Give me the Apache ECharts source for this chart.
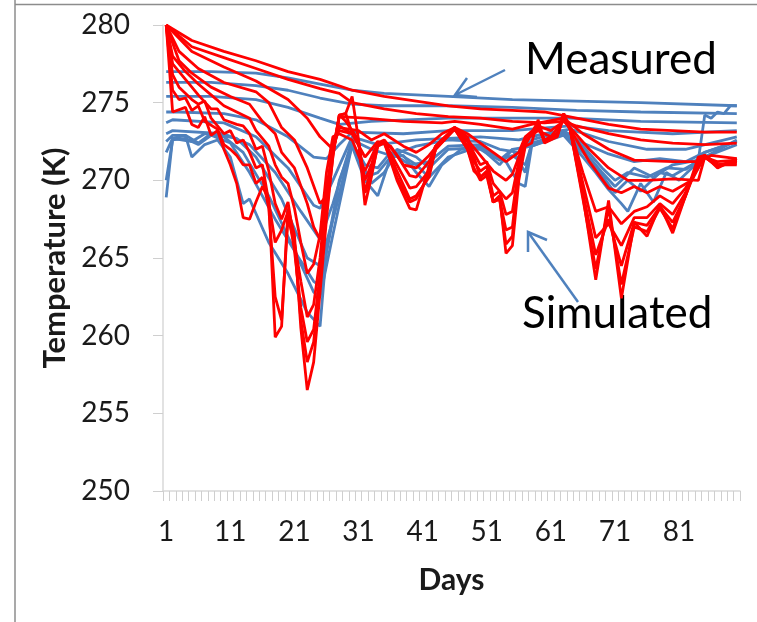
<!DOCTYPE html>
<html>
<head>
<meta charset="utf-8">
<script src="https://cdn.jsdelivr.net/npm/echarts@6/dist/echarts.min.js"></script>
<style>
html,body{margin:0;padding:0;background:#fff;}
#chart{width:757px;height:622px;}
</style>
</head>
<body>
<div id="chart"></div>
<script>
// ---- data (day, temperature K) ----
const days = [];
for (let d = 1; d <= 90; d++) days.push(String(d));
const yTicks = [250, 255, 260, 265, 270, 275, 280];

const measured1 = [[1,277.0],[8,277.0],[15,276.9],[20,276.6],[25,276.2],[30,275.8],[35,275.6],[45,275.4],[55,275.2],[65,275.1],[75,275.0],[90,274.8]];
const measured2 = [[1,276.3],[8,276.3],[15,276.1],[20,275.8],[25,275.3],[30,274.9],[35,274.8],[45,274.8],[55,274.7],[65,274.5],[75,274.4],[90,274.3]];
const measured3 = [[1,275.4],[8,275.4],[15,275.2],[20,274.7],[25,274.0],[28,273.6],[33,273.8],[45,274.0],[55,274.0],[64,274.0],[75,273.8],[90,273.7]];
const measured4 = [[1,274.4],[3,274.4],[10,274.3],[15,273.9],[20,272.8],[24,271.5],[26,271.4],[28,272.3],[30,273.1],[38,273.0],[45,273.2],[55,273.2],[64,273.5],[70,273.2],[80,273.0],[90,273.2]];
const measured5 = [[1,273.7],[2,273.9],[10,273.7],[15,272.8],[20,270.8],[24,268.4],[25,268.2],[27,270.0],[30,272.8],[34,272.3],[40,272.6],[50,272.8],[56,272.6],[60,273.0],[64,273.3],[70,272.5],[76,272.0],[82,272.0],[90,272.8]];
const measured6 = [[1,273.0],[2,273.2],[10,273.0],[14,272.3],[18,270.5],[22,268.0],[25,266.2],[27,268.5],[30,272.6],[33,272.0],[36,271.6],[40,272.2],[45,272.6],[50,272.5],[53,272.0],[56,271.8],[58,272.6],[63,273.2],[66,272.4],[70,271.7],[74,271.2],[78,271.4],[82,271.2],[85,271.8],[90,272.5]];
const measured7 = [[1,272.5],[2,272.9],[4,272.9],[6,272.4],[8,273.0],[12,272.7],[15,271.5],[19,268.8],[23,265.0],[25,264.5],[27,267.5],[30,272.4],[32,271.0],[34,270.8],[36,271.8],[39,271.0],[42,271.2],[45,272.2],[50,272.3],[53,271.3],[55,271.6],[57,271.0],[58,272.3],[63,273.1],[66,272.2],[69,270.8],[71,270.0],[73,270.5],[76,270.2],[79,270.8],[82,270.7],[85,271.5],[90,272.6]];
const measured8 = [[1,271.8],[2,272.7],[5,272.5],[7,273.0],[10,272.8],[13,271.8],[17,269.0],[21,265.5],[24,262.8],[25,262.5],[27,266.5],[30,272.3],[32,270.2],[34,270.5],[37,272.0],[40,271.5],[42,270.8],[45,272.0],[50,272.1],[53,271.0],[55,272.0],[58,272.2],[63,273.0],[66,272.0],[69,270.5],[71,269.6],[74,270.8],[77,270.2],[80,271.0],[84,271.3],[85,274.2],[86,274.0],[87,274.4],[88,274.3],[89,274.8],[90,274.8]];
const measured9 = [[1,270.0],[2,272.6],[4,272.7],[6,272.3],[8,272.9],[11,272.4],[14,270.5],[18,267.5],[22,264.8],[24,263.5],[25,263.2],[27,267.5],[30,272.3],[33,269.8],[35,270.5],[37,271.8],[40,271.0],[42,270.2],[45,271.5],[50,272.2],[53,271.3],[55,272.0],[57,270.5],[58,272.4],[63,273.0],[66,271.8],[69,270.3],[71,269.2],[73,270.0],[75,269.3],[78,270.5],[80,270.3],[83,271.0],[85,271.8],[90,272.5]];
const measured10 = [[1,268.9],[2,272.7],[4,272.9],[5,271.5],[7,272.3],[9,272.6],[11,271.5],[13,268.5],[14,268.8],[17,266.0],[20,264.0],[23,261.5],[25,260.6],[26,265.5],[28,270.0],[30,272.2],[32,270.0],[34,269.0],[36,271.5],[38,271.6],[40,270.5],[42,269.6],[44,271.0],[47,272.0],[50,272.0],[52,271.5],[54,271.2],[56,269.8],[57,269.6],[58,272.2],[63,272.9],[66,271.5],[68,270.5],[70,269.4],[72,268.5],[73,268.0],[75,269.8],[77,268.6],[79,270.5],[81,270.0],[83,270.8],[85,271.5],[90,272.3]];

const simulated1 = [[1,280],[5,279.0],[10,278.3],[15,277.7],[20,277.0],[25,276.5],[30,275.8],[35,275.4],[40,275.1],[45,274.8],[50,274.6],[55,274.5],[60,274.4],[65,274.0],[70,273.6],[75,273.3],[80,273.2],[85,273.1],[90,273.1]];
const simulated2 = [[1,280],[5,278.6],[10,277.9],[15,277.2],[20,276.5],[25,275.9],[28,275.6],[30,275.0],[35,274.6],[40,274.3],[45,274.1],[50,274.0],[55,273.8],[60,273.7],[63,273.8],[65,273.5],[70,273.0],[75,272.6],[80,272.4],[85,272.3],[90,272.4]];
const simulated3 = [[1,280],[5,278.3],[10,277.3],[15,276.4],[20,275.2],[23,274.0],[25,272.8],[27,272.0],[28,274.1],[32,274.0],[38,273.8],[44,273.7],[46,273.8],[50,273.6],[55,273.3],[58,273.6],[63,274.0],[66,273.0],[70,272.0],[74,271.3],[80,271.2],[84,271.2],[86,271.6],[90,271.4]];
const simulated4 = [[1,280],[3,278.3],[6,277.2],[10,276.3],[15,275.7],[17,275.0],[19,273.4],[21,272.6],[23,270.8],[25,268.5],[26,269.0],[27,272.0],[28,273.4],[31,273.2],[33,272.6],[35,273.0],[38,272.2],[40,271.8],[42,272.3],[44,273.0],[46,273.4],[48,273.0],[50,272.4],[52,271.8],[54,271.2],[56,271.8],[57,272.8],[59,273.5],[61,273.2],[63,273.8],[64,273.4],[67,272.0],[70,270.8],[73,270.0],[76,270.0],[80,270.1],[84,270.0],[85,271.5],[87,271.2],[90,271.3]];
const simulated5 = [[1,280],[3,277.7],[5,276.9],[8,276.0],[11,275.4],[14,274.9],[16,273.8],[18,273.0],[19,271.8],[21,270.8],[23,268.5],[24,267.0],[25,266.2],[26,268.5],[27,272.5],[28,273.2],[30,273.0],[32,271.5],[34,272.5],[36,272.2],[38,271.0],[40,270.8],[42,271.6],[44,272.6],[46,273.3],[48,272.6],[50,271.6],[52,270.6],[54,270.0],[55,270.4],[56,271.5],[57,272.6],[59,273.2],[61,272.8],[63,273.9],[64,273.3],[67,271.2],[70,269.5],[72,269.2],[74,269.6],[76,269.2],[78,269.6],[80,269.3],[83,270.0],[85,271.6],[87,271.0],[90,271.2]];
const simulated6 = [[1,280],[2,278.0],[4,277.0],[6,276.2],[8,275.5],[10,274.8],[12,274.4],[14,274.0],[15,273.2],[17,272.2],[18,271.0],[19,270.2],[20,269.8],[21,268.2],[22,266.0],[23,264.0],[24,264.6],[25,266.5],[26,270.5],[27,272.8],[28,273.0],[30,272.6],[32,270.6],[34,272.4],[35,272.6],[37,271.6],[39,270.3],[40,270.2],[42,271.2],[43,272.2],[46,273.4],[48,272.5],[50,271.0],[51,271.2],[52,269.8],[54,268.8],[55,269.2],[56,271.2],[57,272.5],[59,273.4],[60,272.6],[62,273.0],[63,274.0],[64,273.3],[66,270.5],[68,268.0],[70,268.3],[72,267.2],[74,268.0],[76,268.3],[78,269.0],[80,268.5],[82,269.5],[84,270.8],[85,271.6],[87,271.0],[90,271.0]];
const simulated7 = [[1,280],[2,277.5],[4,276.5],[6,275.5],[8,274.6],[9,274.6],[10,273.9],[12,273.6],[13,273.5],[14,273.0],[15,272.0],[16,272.2],[17,270.6],[18,268.5],[19,267.5],[20,268.6],[21,266.0],[22,263.5],[23,261.2],[24,262.0],[25,265.0],[26,269.5],[27,272.0],[28,273.5],[30,273.0],[31,272.4],[32,270.0],[33,271.0],[34,272.4],[35,272.5],[37,271.0],[39,269.5],[40,269.6],[42,270.6],[43,272.0],[46,273.4],[48,272.2],[49,271.2],[50,270.6],[51,270.9],[52,269.0],[53,269.3],[54,267.8],[55,268.0],[56,270.8],[57,272.4],[59,273.6],[60,272.5],[62,272.9],[63,274.1],[64,273.3],[66,269.8],[68,266.3],[70,267.2],[72,265.8],[74,267.6],[76,267.6],[78,268.5],[80,267.8],[82,269.2],[84,271.0],[85,271.6],[87,271.0],[90,271.1]];
const simulated8 = [[1,280],[2,276.8],[3,276.0],[5,275.2],[6,274.9],[7,275.1],[8,274.0],[10,273.0],[11,273.2],[12,272.4],[13,272.6],[14,271.8],[15,270.8],[16,271.0],[17,268.6],[18,266.0],[19,266.8],[20,268.0],[21,265.5],[22,261.8],[23,259.6],[24,260.4],[25,264.0],[26,268.8],[27,271.8],[28,274.2],[29,274.3],[30,273.0],[31,272.5],[32,269.2],[33,270.8],[34,272.3],[35,272.5],[37,270.6],[39,268.8],[40,269.0],[42,270.2],[43,272.0],[46,273.3],[48,272.0],[49,270.8],[50,270.0],[51,270.3],[52,268.6],[53,268.8],[54,266.8],[55,267.0],[56,270.5],[57,272.3],[59,273.7],[60,272.4],[62,272.8],[63,274.2],[64,273.3],[66,269.2],[68,265.2],[70,267.5],[72,264.5],[74,267.3],[76,267.1],[78,268.3],[80,267.3],[82,269.0],[84,271.1],[85,271.5],[87,270.9],[90,271.2]];
const simulated9 = [[1,280],[2,275.8],[3,275.2],[4,275.3],[5,274.5],[6,274.8],[7,273.8],[9,273.3],[10,272.3],[11,272.0],[12,271.6],[13,271.0],[14,271.0],[15,269.8],[16,270.2],[17,268.2],[18,262.5],[19,261.0],[20,267.6],[21,266.0],[22,261.0],[23,258.3],[24,259.6],[25,263.5],[26,268.0],[27,271.5],[28,274.2],[29,273.8],[30,273.2],[31,272.6],[32,269.2],[33,270.4],[34,272.2],[35,272.4],[37,270.2],[39,268.6],[40,268.8],[42,270.4],[43,272.0],[46,273.3],[48,272.0],[49,270.6],[50,270.2],[51,270.5],[52,268.6],[53,268.8],[54,265.9],[55,266.4],[56,270.8],[57,272.3],[59,273.8],[60,272.5],[62,272.9],[63,274.3],[64,273.3],[66,268.8],[68,264.3],[70,268.2],[72,263.3],[74,267.0],[76,266.7],[78,268.2],[80,266.9],[82,269.0],[84,271.3],[85,271.5],[87,270.9],[90,271.3]];
const simulated10 = [[1,280],[2,274.4],[4,274.7],[5,273.6],[6,273.4],[7,274.1],[8,272.9],[9,273.2],[10,272.0],[11,271.0],[12,269.8],[13,267.6],[14,267.5],[15,268.6],[16,269.6],[17,268.8],[18,259.9],[19,260.6],[20,268.2],[21,266.5],[22,260.5],[23,256.5],[24,258.3],[25,262.8],[26,267.5],[27,271.6],[28,274.2],[29,274.3],[30,275.4],[31,272.6],[32,268.4],[33,270.2],[34,272.3],[35,272.5],[37,270.0],[39,268.2],[40,268.1],[42,270.9],[43,272.2],[46,273.4],[48,272.8],[49,271.5],[50,270.2],[51,270.6],[52,268.6],[53,269.0],[54,265.3],[55,265.8],[56,270.0],[57,272.2],[58,272.4],[59,273.9],[60,272.5],[62,273.0],[63,274.3],[64,273.3],[66,269.0],[68,263.6],[70,268.7],[72,262.4],[74,267.3],[76,266.4],[78,268.4],[80,266.6],[82,269.0],[84,271.5],[85,271.6],[87,270.8],[90,271.4]];

const measuredSeries = [measured1, measured2, measured3, measured4, measured5, measured6, measured7, measured8, measured9, measured10];
const simulatedSeries = [simulated1, simulated2, simulated3, simulated4, simulated5, simulated6, simulated7, simulated8, simulated9, simulated10];

const BLUE = '#4F81BD';
const RED = '#FF0000';
const FONT = 'Lato, "Open Sans", sans-serif';

function toSeries(arr, color, name) {
  return {
    type: 'line',
    name: name,
    data: arr.map(p => [p[0] - 1, p[1]]),
    symbol: 'none',
    smooth: false,
    lineStyle: { color: color, width: 2.8 },
    itemStyle: { color: color },
    emphasis: { disabled: true },
    silent: true
  };
}

const series = [];
measuredSeries.forEach((a, i) => series.push(toSeries(a, BLUE, 'Measured ' + (i + 1))));
simulatedSeries.forEach((a, i) => series.push(toSeries(a, RED, 'Simulated ' + (i + 1))));

const chart = echarts.init(document.getElementById('chart'), null, { renderer: 'canvas' });
chart.setOption({
  animation: false,
  backgroundColor: '#ffffff',
  grid: { left: 163, right: 17, top: 25, bottom: 131, containLabel: false },
  xAxis: {
    type: 'category',
    data: days,
    boundaryGap: true,
    name: 'Days',
    nameLocation: 'middle',
    nameGap: 74,
    nameTextStyle: { fontFamily: FONT, fontWeight: 'bold', fontSize: 30, color: '#1a1a1a' },
    axisLine: { lineStyle: { color: '#D9D9D9', width: 1.5 } },
    axisTick: { show: true, interval: 0, length: 10, lineStyle: { color: '#CFCFCF', width: 1 } },
    axisLabel: { interval: 9, fontFamily: FONT, fontSize: 28, color: '#1a1a1a', margin: 27 },
    splitLine: { show: false }
  },
  yAxis: {
    type: 'value',
    min: yTicks[0],
    max: yTicks[yTicks.length - 1],
    interval: 5,
    name: 'Temperature (K)',
    nameLocation: 'middle',
    nameGap: 86,
    nameRotate: 90,
    nameTextStyle: { fontFamily: FONT, fontWeight: 'bold', fontSize: 31, color: '#1a1a1a' },
    axisLine: { show: true, lineStyle: { color: '#D9D9D9', width: 1.5 } },
    axisTick: { show: true, length: 10, lineStyle: { color: '#CFCFCF', width: 1 } },
    axisLabel: { fontFamily: FONT, fontSize: 28, color: '#1a1a1a', margin: 33 },
    splitLine: { show: false }
  },
  series: series,
  graphic: [
    { type: 'line', silent: true, shape: { x1: 15, y1: 0, x2: 15, y2: 622 }, style: { stroke: '#8c8c8c', lineWidth: 1.5 } },
    { type: 'line', silent: true, shape: { x1: 15, y1: 4.5, x2: 757, y2: 4.5 }, style: { stroke: '#8c8c8c', lineWidth: 1.5 } },
    { type: 'text', silent: true, left: 525, top: 38, style: { text: 'Measured', font: '44px ' + FONT, fill: '#000' } },
    { type: 'text', silent: true, left: 522, top: 292, style: { text: 'Simulated', font: '44px ' + FONT, fill: '#000' } },
    { type: 'polyline', silent: true, shape: { points: [[505, 70], [455, 95]] }, style: { stroke: BLUE, lineWidth: 2.5, fill: null } },
    { type: 'polyline', silent: true, shape: { points: [[467, 78], [455, 95], [477, 97]] }, style: { stroke: BLUE, lineWidth: 2.5, fill: null } },
    { type: 'polyline', silent: true, shape: { points: [[578, 302], [528, 232]] }, style: { stroke: BLUE, lineWidth: 2.5, fill: null } },
    { type: 'polyline', silent: true, shape: { points: [[528, 252], [528, 232], [547, 240]] }, style: { stroke: BLUE, lineWidth: 2.5, fill: null } }
  ]
});
</script>
</body>
</html>
